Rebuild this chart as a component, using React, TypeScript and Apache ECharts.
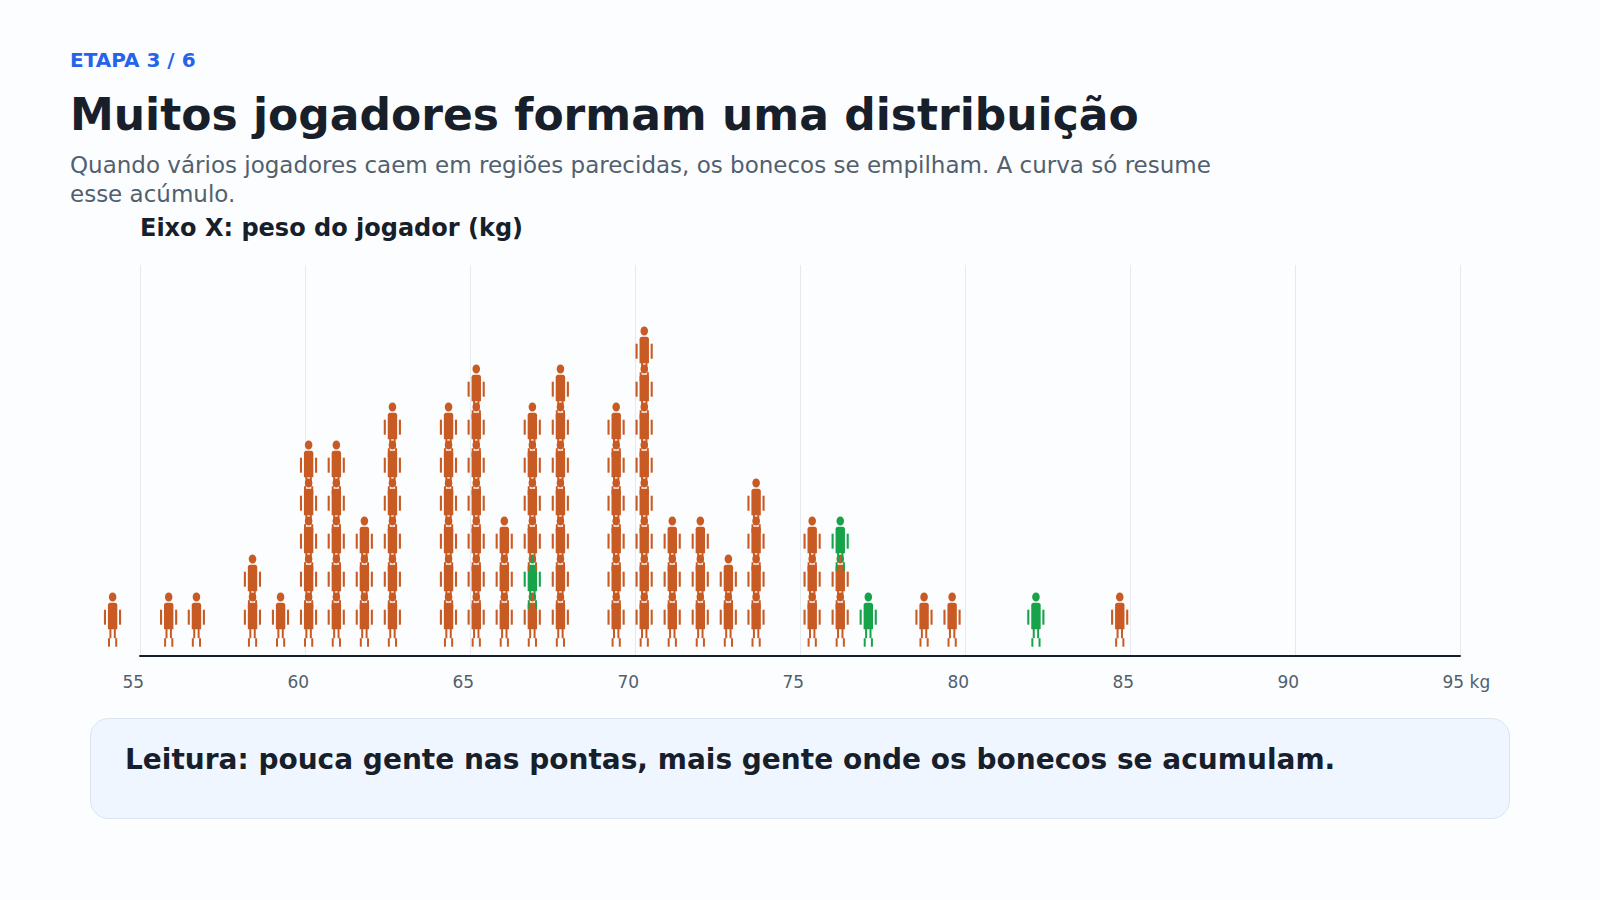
import React, { useEffect, useRef } from "react";
import * as echarts from "echarts";

const weights = [54.17, 55.87, 56.71, 58.41, 59.26, 60.11, 60.95, 61.8, 62.65, 64.35, 65.19, 66.04, 66.89, 67.74, 69.43, 70.28, 71.13, 71.98, 72.83, 73.67, 75.37, 76.22, 77.07, 78.76, 79.61, 82.15, 84.69];
const counts = [1, 1, 1, 2, 1, 5, 5, 3, 6, 6, 7, 3, 6, 7, 6, 8, 3, 3, 2, 4, 3, 3, 1, 1, 1, 1, 1];
// [column index, row index] of the highlighted players
const greenPlayers = [[12, 1], [21, 2], [22, 0], [25, 0]];
const tickValues = [55, 60, 65, 70, 75, 80, 85, 90, 95];
const ORANGE = "#c85a24";
const GREEN = "#16a34a";
const FONT = "'DejaVu Sans', sans-serif";

const players: number[][] = [];
weights.forEach((w, c) => {
  for (let r = 0; r < counts[c]; r++) {
    const g = greenPlayers.some((p) => p[0] === c && p[1] === r) ? 1 : 0;
    players.push([w, r, g]);
  }
});

const renderFigure = (_params: any, api: any) => {
  const pt = api.coord([api.value(0), api.value(1)]);
  const cx = pt[0];
  const base = pt[1] - 9.3; // feet sit slightly above the axis line
  const fill = api.value(2) ? GREEN : ORANGE;
  const rect = (x: number, y: number, w: number, h: number, r: any = 0) => ({
    type: "rect",
    shape: { x: cx + x, y: base + y, width: w, height: h, r },
    style: { fill },
  });
  return {
    type: "group",
    children: [
      { type: "ellipse", shape: { cx, cy: base - 49.6, rx: 3.8, ry: 4.5 }, style: { fill } },
      rect(-4.7, -44, 9.4, 26.5, [2.5, 2.5, 0.5, 0.5]),
      rect(-8.7, -37, 2.1, 15),
      rect(6.4, -37, 2.1, 15),
      rect(-3.2, -18, 2, 9.5),
      rect(1.2, -18, 2, 9.5),
      rect(-4.6, -8.5, 2, 8.5),
      rect(2.6, -8.5, 2, 8.5),
    ],
  };
};

const texts = [
  { x: 70, y: 50, text: "ETAPA 3 / 6", font: `bold 20px ${FONT}`, fill: "#2563eb" },
  { x: 70, y: 92.6, text: "Muitos jogadores formam uma distribuição", font: `bold 44px ${FONT}`, fill: "#17202a" },
  { x: 70, y: 153.3, text: "Quando vários jogadores caem em regiões parecidas, os bonecos se empilham. A curva só resume", font: `23px ${FONT}`, fill: "#52606d" },
  { x: 70, y: 182.8, text: "esse acúmulo.", font: `23px ${FONT}`, fill: "#52606d" },
  { x: 140, y: 216, text: "Eixo X: peso do jogador (kg)", font: `bold 24px ${FONT}`, fill: "#17202a" },
  { x: 125, y: 745.7, text: "Leitura: pouca gente nas pontas, mais gente onde os bonecos se acumulam.", font: `bold 28px ${FONT}`, fill: "#17202a" },
];

export default function App() {
  const ref = useRef<HTMLDivElement>(null);
  useEffect(() => {
    const chart = echarts.init(ref.current!, undefined, { renderer: "svg" });
    chart.setOption({
      animation: false,
      backgroundColor: "#fcfdff",
      grid: [
        { left: 140, top: 265, width: 1320, height: 391 },
        { left: 122.5, top: 265, width: 1320, height: 391 },
      ],
      xAxis: [
        {
          type: "value", gridIndex: 0, min: 55, max: 95, interval: 5,
          axisLine: { show: true, onZero: false, lineStyle: { color: "#17202a", width: 2 } },
          axisTick: { show: false },
          axisLabel: { show: false },
          splitLine: { show: true, lineStyle: { color: "#e6e9ed", width: 1 } },
        },
        {
          type: "value", gridIndex: 1, min: 55, max: 95, interval: 5,
          axisLine: { show: false },
          axisTick: { show: false },
          splitLine: { show: false },
          axisLabel: {
            show: true, margin: 17, align: "left", showMinLabel: true, showMaxLabel: true,
            color: "#52606d", fontSize: 17, fontFamily: FONT,
            formatter: (v: number) => (v === tickValues[tickValues.length - 1] ? `${v} kg` : `${v}`),
          },
        },
      ],
      yAxis: [
        { type: "value", gridIndex: 0, min: 0, max: 391 / 38, show: false },
        { type: "value", gridIndex: 1, min: 0, max: 391 / 38, show: false },
      ],
      series: [
        {
          type: "custom", xAxisIndex: 0, yAxisIndex: 0, clip: false, silent: true,
          renderItem: renderFigure,
          encode: { x: 0, y: 1 },
          data: players,
        },
      ],
      graphic: [
        {
          type: "rect", silent: true, z: -1,
          shape: { x: 90.5, y: 718.5, width: 1419, height: 100, r: 18 },
          style: { fill: "#eff6ff", stroke: "#dbe4ee", lineWidth: 1 },
        },
        ...texts.map((t) => ({
          type: "text", silent: true,
          x: t.x, y: t.y,
          style: { text: t.text, font: t.font, fill: t.fill, textVerticalAlign: "alphabetic", textAlign: "left" },
        })),
      ],
    });
    return () => chart.dispose();
  }, []);
  return <div ref={ref} style={{ position: "absolute", left: 0, top: 0, width: 1600, height: 900 }} />;
}
